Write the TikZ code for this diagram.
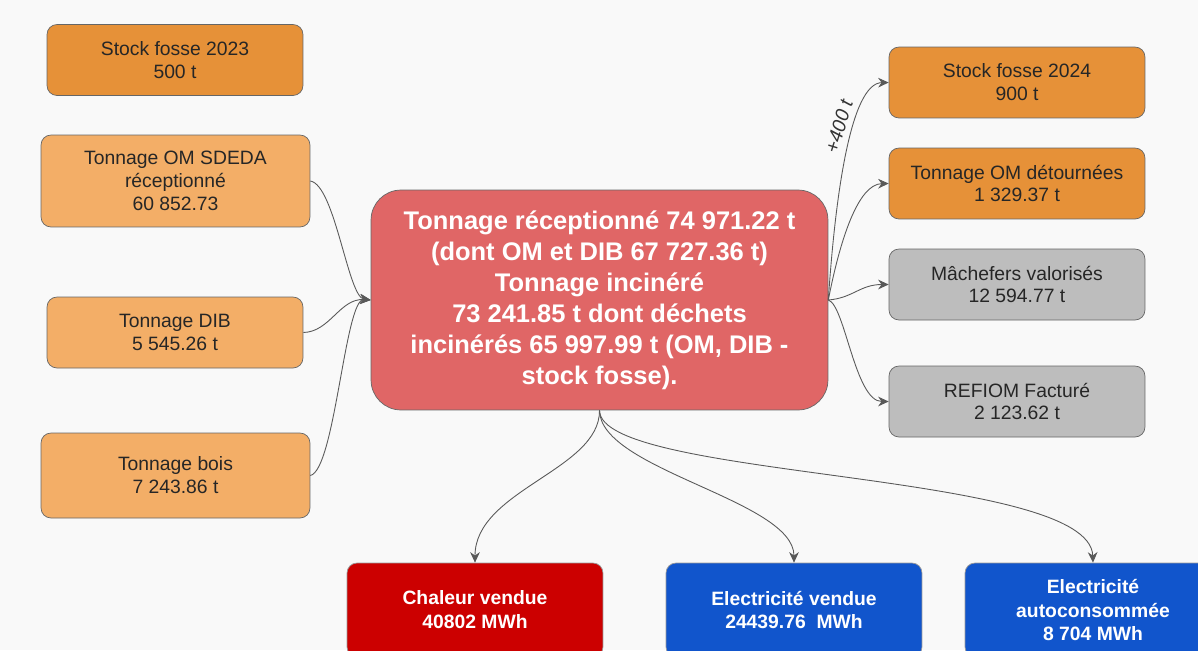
\documentclass[tikz,border=0pt]{standalone}
\usepackage{fontspec}
\setmainfont{Liberation Sans}
\setsansfont{Liberation Sans}
\usepackage{xcolor}
\usepackage{tikz}
\usetikzlibrary{positioning, arrows.meta}

\definecolor{orangedark}{HTML}{E69138}
\definecolor{orangelight}{HTML}{F3AE67}
\definecolor{mainred}{HTML}{E06666}
\definecolor{boxgray}{HTML}{BDBDBD}
\definecolor{heatred}{HTML}{CC0000}
\definecolor{elecblue}{HTML}{1155CC}
\definecolor{bgcol}{HTML}{F9F9F9}

\tikzset{
	box/.style={draw=black!60, rounded corners=0.2cm, minimum width=5.12cm, minimum height=1.42cm, align=center, text=black!85, font=\fontsize{11}{13}\selectfont},
	boxin/.style={box, fill=orangelight, minimum width=5.38cm},
	boxout/.style={box, fill=boxgray},
	boxstock/.style={box, fill=orangedark},
	boxen/.style={box, draw=black!40, text=white, minimum height=1.88cm, font=\fontsize{11}{13.6}\selectfont\bfseries},
	flow/.style={draw=black!65, line width=0.5pt, -{Stealth[length=6pt,width=5.5pt]}},
}

\begin{document}
\begin{tikzpicture}[x=0.02cm, y=-0.02cm]
	\fill[bgcol] (0,0) rectangle (1198,650);
	\useasboundingbox (0,0) rectangle (1198,650);
	\clip (0,0) rectangle (1198,650);

	% entrees
	\node[boxstock] (s23) at (175,60) {Stock fosse 2023\\500 t};
	\node[boxin, minimum height=1.84cm] (om) at (175.5,181) {Tonnage OM SDEDA\\réceptionné\\60 852.73};
	\node[boxin, minimum width=5.12cm] (dib) at (175,332.5) {Tonnage DIB\\5 545.26 t};
	\node[boxin, minimum height=1.70cm] (bois) at (175.5,475.5) {Tonnage bois\\7 243.86 t};

	% usine
	\node[draw=black!60, fill=mainred, rounded corners=0.6cm, minimum width=9.14cm, minimum height=4.4cm, align=center, text=white, font=\fontsize{14.5}{17.6}\selectfont\bfseries] (main) at (599.5,300) {Tonnage réceptionné 74 971.22 t\\(dont OM et DIB 67 727.36 t)\\Tonnage incinéré\\73 241.85 t dont déchets\\incinérés 65 997.99 t (OM, DIB -\\stock fosse).};

	% sorties
	\node[boxstock] (s24) at (1017,82.5) {Stock fosse 2024\\900 t};
	\node[boxstock] (detour) at (1017,183.5) {Tonnage OM détournées\\1 329.37 t};
	\node[boxout] (mach) at (1017,284.5) {Mâchefers valorisés\\12 594.77 t};
	\node[boxout] (refiom) at (1017,401.5) {REFIOM Facturé\\2 123.62 t};

	% energie
	\node[boxen, fill=heatred] (chal) at (475,610) {Chaleur vendue\\40802 MWh};
	\node[boxen, fill=elecblue] (elec) at (794,610) {Electricité vendue\\24439.76~~MWh};
	\node[boxen, fill=elecblue] (auto) at (1093,610) {Electricité\\autoconsommée\\8 704 MWh};

	\draw[flow] (om.east) .. controls (335,185) and (348,297) .. (main.west);
	\draw[flow] (dib.east) .. controls (330,332) and (340,298) .. (main.west);
	\draw[flow] (bois.east) .. controls (335,470) and (345,298) .. (main.west);

	\draw[flow] (main.east) .. controls (835,200) and (850,83) .. node[pos=0.6, sloped, above=3pt, inner sep=1pt, font=\fontsize{11}{13}\selectfont\itshape, text=black!80] {+400 t} (s24.west);
	\draw[flow] (main.east) .. controls (840,240) and (858,184) .. (detour.west);
	\draw[flow] (main.east) .. controls (853,298) and (860,284.5) .. (mach.west);
	\draw[flow] (main.east) .. controls (845,305) and (855,401.5) .. (refiom.west);

	\draw[flow] (main.south) .. controls (600,470) and (475,490) .. (chal.north);
	\draw[flow] (main.south) .. controls (600,470) and (794,500) .. (elec.north);
	\draw[flow] (main.south) .. controls (600,480) and (1090,470) .. (auto.north);
\end{tikzpicture}
\end{document}
